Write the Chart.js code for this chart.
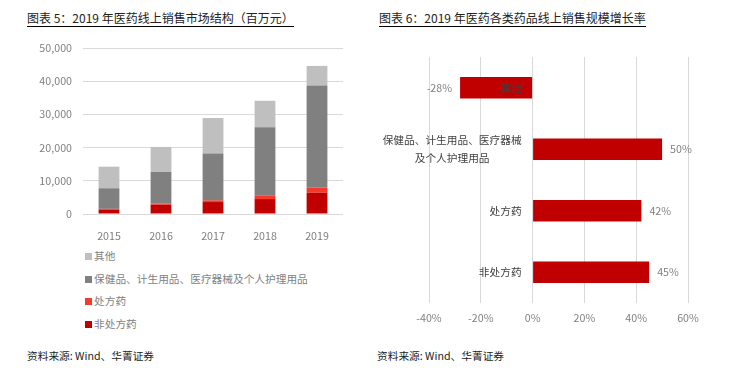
<!DOCTYPE html>
<html lang="zh">
<head>
<meta charset="UTF-8">
<title>2019年医药线上销售</title>
<script src="https://cdn.jsdelivr.net/npm/chart.js"></script>
<style>
  body { margin: 0; background: #fff; font-family: 'Noto Sans CJK SC', sans-serif; }
  #page { position: relative; width: 735px; height: 377px; overflow: hidden; }
  .title { position: absolute; top: 10px; font-size: 12px; line-height: 16px; color: #222; border-bottom: 1px solid #000; white-space: nowrap; }
  .source { position: absolute; top: 349px; font-size: 10.7px; line-height: 14px; color: #222; white-space: nowrap; }
  #legend { position: absolute; left: 85px; top: 245px; font-size: 10.7px; color: #7f7f7f; }
  #legend div { height: 22.5px; line-height: 22.5px; white-space: nowrap; }
  #legend span { display: inline-block; width: 7px; height: 7px; margin-right: 2px; vertical-align: -0px; }
  canvas { position: absolute; }
</style>
</head>
<body>
<div id="page">
  <div class="title" style="left:27px">图表 5：2019 年医药线上销售市场结构（百万元）</div>
  <div class="title" style="left:379px">图表 6：2019 年医药各类药品线上销售规模增长率</div>
  <div style="position:absolute;left:0;top:0;width:360px;height:240px"><canvas id="left"></canvas></div>
  <div style="position:absolute;left:370px;top:0;width:365px;height:333px"><canvas id="right"></canvas></div>
  <div id="legend"></div>
  <div class="source" style="left:27px">资料来源: Wind、华菁证券</div>
  <div class="source" style="left:377px">资料来源: Wind、华菁证券</div>
</div>
<script>
// left chart: market structure (million yuan)
const years = ['2015', '2016', '2017', '2018', '2019'];
const otcSales = [1300, 2800, 3600, 4500, 6400];        // 非处方药
const rxSales = [250, 300, 500, 1100, 1500];            // 处方药
const healthSales = [6200, 9600, 14100, 20500, 30800];  // 保健品、计生用品、医疗器械及个人护理用品
const otherSales = [6500, 7500, 10700, 8000, 5900];     // 其他
const yTicksLeft = [0, 10000, 20000, 30000, 40000, 50000];

// right chart: growth rate (%)
const growthCats = ['其他', ['保健品、计生用品、医疗器械', '及个人护理用品'], '处方药', '非处方药'];
const growthVals = [-28, 50, 42, 45];
const xTicksRight = [-40, -20, 0, 20, 40, 60];

Chart.defaults.font.family = "'Noto Sans CJK SC', sans-serif";
Chart.defaults.font.size = 10.7;
Chart.defaults.color = '#7f7f7f';
Chart.defaults.animation = false;

const leftSeries = [
  { label: '非处方药', data: otcSales, color: '#c00000' },
  { label: '处方药', data: rxSales, color: '#f53a2c' },
  { label: '保健品、计生用品、医疗器械及个人护理用品', data: healthSales, color: '#808080' },
  { label: '其他', data: otherSales, color: '#bfbfbf' }
];

new Chart(document.getElementById('left'), {
  type: 'bar',
  data: {
    labels: years,
    datasets: leftSeries.map(s => ({
      label: s.label, data: s.data, backgroundColor: s.color,
      borderWidth: 0, barPercentage: 0.4, categoryPercentage: 1
    }))
  },
  options: {
    responsive: true,
    maintainAspectRatio: false,
    layout: { padding: { top: 48, right: 17, left: 0, bottom: 0 } },
    plugins: { legend: { display: false }, tooltip: { enabled: false } },
    scales: {
      x: {
        stacked: true,
        grid: { display: false },
        border: { display: false },
        ticks: { padding: 8 },
        afterFit: s => { s.height = 26; }
      },
      y: {
        stacked: true,
        min: 0, max: 50000,
        afterBuildTicks: s => { s.ticks = yTicksLeft.map(v => ({ value: v })); },
        grid: { color: '#d9d9d9', drawTicks: false },
        border: { display: false },
        ticks: { padding: 11, callback: v => v.toLocaleString('en-US') },
        afterFit: s => { s.width = 83; }
      }
    }
  }
});

// html legend, top series first
const legend = document.getElementById('legend');
leftSeries.slice().reverse().forEach(s => {
  const row = document.createElement('div');
  row.innerHTML = '<span style="background:' + s.color + '"></span>' + s.label;
  legend.appendChild(row);
});

// category labels next to the zero line + value labels
const growthLabels = {
  id: 'growthLabels',
  afterDatasetsDraw(chart) {
    const ctx = chart.ctx;
    const xs = chart.scales.x, ys = chart.scales.y;
    const x0 = xs.getPixelForValue(0) - 11;
    ctx.save();
    ctx.font = "10.7px 'Noto Sans CJK SC', sans-serif";
    ctx.textBaseline = 'middle';
    growthCats.forEach((c, i) => {
      const y = ys.getPixelForValue(i);
      ctx.fillStyle = '#404040';
      if (Array.isArray(c)) {
        const w = Math.max(...c.map(t => ctx.measureText(t).width));
        ctx.textAlign = 'center';
        const lh = 18;
        c.forEach((t, k) => ctx.fillText(t, x0 - w / 2, y + (k - (c.length - 1) / 2) * lh));
      } else {
        ctx.textAlign = 'right';
        ctx.fillText(c, x0, y);
      }
    });
    const meta = chart.getDatasetMeta(0);
    ctx.fillStyle = '#7f7f7f';
    meta.data.forEach((bar, i) => {
      const v = growthVals[i];
      const t = v + '%';
      if (v < 0) { ctx.textAlign = 'right'; ctx.fillText(t, bar.x - 8, bar.y); }
      else { ctx.textAlign = 'left'; ctx.fillText(t, bar.x + 8, bar.y); }
    });
    ctx.restore();
  }
};

new Chart(document.getElementById('right'), {
  type: 'bar',
  data: {
    labels: growthCats,
    datasets: [{
      data: growthVals, backgroundColor: '#c00000',
      borderWidth: 0, barPercentage: 0.35, categoryPercentage: 1
    }]
  },
  options: {
    indexAxis: 'y',
    responsive: true,
    maintainAspectRatio: false,
    layout: { padding: { top: 57, right: 47, left: 59, bottom: 0 } },
    plugins: { legend: { display: false }, tooltip: { enabled: false } },
    scales: {
      x: {
        min: -40, max: 60,
        afterBuildTicks: s => { s.ticks = xTicksRight.map(v => ({ value: v })); },
        grid: { color: '#d9d9d9', drawTicks: false },
        border: { display: false },
        ticks: { padding: 9, callback: v => v + '%' },
        afterFit: s => { s.height = 30; }
      },
      y: { display: false }
    }
  },
  plugins: [growthLabels]
});
</script>
</body>
</html>
